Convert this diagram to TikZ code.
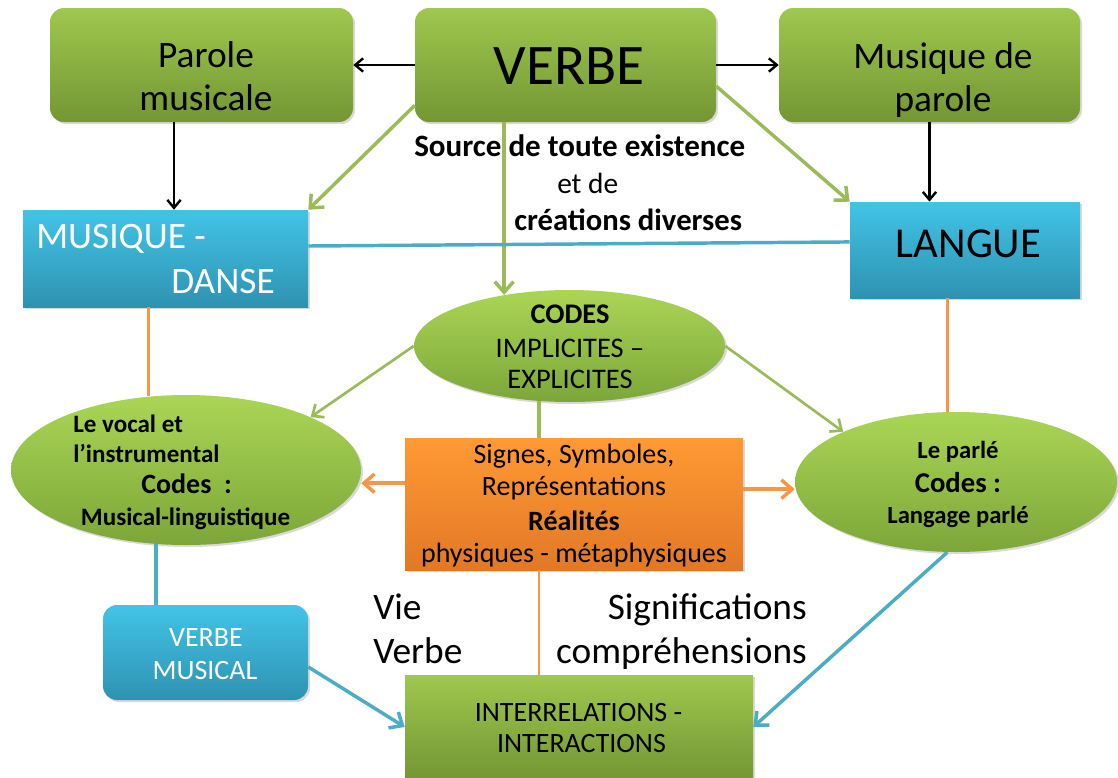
\documentclass[tikz,border=0pt]{standalone}
\usepackage{fontspec}
\setmainfont{Carlito}
\usetikzlibrary{arrows.meta,calc,positioning,shapes.geometric,shadows}
\newcommand{\pxunit}{0.75pt}
\newcommand{\fsz}[2]{\fontsize{#1}{#2}\selectfont}
\definecolor{grntop}{RGB}{158,200,78}
\definecolor{grnbot}{RGB}{116,150,52}
\definecolor{elltop}{RGB}{170,214,86}
\definecolor{ellbot}{RGB}{124,166,56}
\definecolor{blutop}{RGB}{66,196,230}
\definecolor{blubot}{RGB}{46,146,178}
\definecolor{orgtop}{RGB}{255,154,52}
\definecolor{orgbot}{RGB}{226,120,38}
\definecolor{grnline}{RGB}{155,187,89}
\definecolor{bluline}{RGB}{75,172,198}
\definecolor{orgline}{RGB}{247,150,70}
\tikzset{
    shadsty/.style={drop shadow={opacity=0.3,shadow xshift=1.5pt,shadow yshift=-1.5pt}},
    greensty/.style={rectangle,rounded corners=14*\pxunit,top color=grntop,bottom color=grnbot,shadsty,inner sep=0pt},
    bluesty/.style={rectangle,top color=blutop,bottom color=blubot,shadsty,inner sep=0pt},
    orangesty/.style={rectangle,top color=orgtop,bottom color=orgbot,shadsty,inner sep=0pt},
    ellsty/.style={ellipse,top color=elltop,bottom color=ellbot,shadsty,inner sep=0pt},
    txtsty/.style={inner sep=0pt,anchor=base},
    blkarrsty/.style={-{Straight Barb[length=6pt,width=10pt]},line width=1.8pt,black},
    grnarrsty/.style={-{Straight Barb[length=8pt,width=14pt]},line width=2.6pt,grnline},
    thinarrsty/.style={-{Straight Barb[length=7pt,width=12pt]},line width=2pt,grnline},
    bluarrsty/.style={-{Straight Barb[length=8pt,width=14pt]},line width=2.6pt,bluline},
    orgarrsty/.style={-{Straight Barb[length=8pt,width=14pt]},line width=2.6pt,orgline},
}

\begin{document}
\begin{tikzpicture}[x=\pxunit,y=-\pxunit]
\useasboundingbox (0,0) rectangle (1118,778);

% top row
\node (parole) [greensty,minimum width=303*\pxunit,minimum height=114*\pxunit] at (201.5,65) {};
\node (verbe) [greensty,minimum width=301*\pxunit,minimum height=114*\pxunit] at (565.5,65) {};
\node (musparole) [greensty,minimum width=301*\pxunit,minimum height=114*\pxunit] at (929.5,65) {};
\node (parolet) [inner sep=0pt,align=center,font=\fsz{28}{32}] at (206,76) {Parole\\musicale};
\node (verbet) [inner sep=0pt,font=\fsz{43}{50}] at (569,66.5) {VERBE};
\node (musparolet) [inner sep=0pt,align=center,font=\fsz{28}{32}] at (943,80) {Musique de\\parole};

% second row
\node (danse) [bluesty,minimum width=285*\pxunit,minimum height=97*\pxunit] at (165.5,258.5) {};
\node (langue) [bluesty,minimum width=230*\pxunit,minimum height=96*\pxunit] at (965,250) {};
\node (danseA) [txtsty,anchor=base west,text=white,font=\fsz{28}{32}] at (36,248) {MUSIQUE -};
\node (danseB) [txtsty,anchor=base west,text=white,font=\fsz{28}{32}] at (171,293) {DANSE};
\node (languet) [inner sep=0pt,font=\fsz{32}{38}] at (968.5,243.5) {LANGUE};
\node (srcA) [txtsty,anchor=base west,font=\bfseries\fsz{23.3}{27}] at (414,156) {Source de toute existence};
\node (srcB) [txtsty,anchor=base west,font=\fsz{22}{26}] at (557,193) {et de};
\node (srcC) [txtsty,anchor=base west,font=\bfseries\fsz{23}{27}] at (514,230) {créations diverses};

% codes
\node (codes) [ellsty,minimum width=311*\pxunit,minimum height=112*\pxunit] at (569.5,346) {};
\node (codesA) [txtsty,font=\bfseries\fsz{21.3}{25}] at (570,323) {CODES};
\node (codesB) [txtsty,font=\fsz{21.3}{25}] at (570,357) {IMPLICITES –};
\node (codesC) [txtsty,font=\fsz{21.3}{25}] at (570,388) {EXPLICITES};

% third row
\node (vocal) [ellsty,minimum width=350*\pxunit,minimum height=150*\pxunit] at (186,470) {};
\node (parle) [ellsty,minimum width=322*\pxunit,minimum height=140*\pxunit] at (956,482) {};
\node (signes) [orangesty,minimum width=338*\pxunit,minimum height=132*\pxunit] at (574,504) {};
\node (vocalA) [txtsty,anchor=base west,font=\bfseries\fsz{18.8}{22}] at (73,432) {Le vocal et};
\node (vocalB) [txtsty,anchor=base west,font=\bfseries\fsz{18.8}{22}] at (73,462) {l’instrumental};
\node (vocalC) [txtsty,anchor=base west,font=\bfseries\fsz{21}{25}] at (141,493) {Codes\ \ :};
\node (vocalD) [txtsty,font=\bfseries\fsz{18.8}{22}] at (185.5,525) {Musical-linguistique};
\node (parleA) [txtsty,font=\bfseries\fsz{18.5}{22}] at (958,458) {Le parlé};
\node (parleB) [txtsty,font=\bfseries\fsz{21.5}{25}] at (958,492) {Codes :};
\node (parleC) [txtsty,font=\bfseries\fsz{18.5}{22}] at (958,523) {Langage parlé};
\node (signesA) [txtsty,font=\fsz{21}{25}] at (574,463) {Signes, Symboles,};
\node (signesB) [txtsty,font=\fsz{21}{25}] at (574,495) {Représentations};
\node (signesC) [txtsty,font=\bfseries\fsz{21}{25}] at (574,530) {Réalités};
\node (signesD) [txtsty,font=\fsz{21}{25}] at (574,562) {physiques - métaphysiques};

% bottom row
\node (vmusical) [bluesty,rounded corners=14*\pxunit,minimum width=205*\pxunit,minimum height=95*\pxunit] at (205.5,652.5) {};
\node (inter) [greensty,rounded corners=0pt,minimum width=348*\pxunit,minimum height=104*\pxunit] at (579,727) {};
\node (vmusA) [txtsty,text=white,font=\fsz{21}{25}] at (206,646) {VERBE};
\node (vmusB) [txtsty,text=white,font=\fsz{21}{25}] at (205,679) {MUSICAL};
\node (interA) [txtsty,font=\fsz{21}{25}] at (578.5,721) {INTERRELATIONS -};
\node (interB) [txtsty,font=\fsz{21}{25}] at (581.5,752) {INTERACTIONS};
\node (vieA) [txtsty,anchor=base west,font=\fsz{28}{32}] at (373,619) {Vie};
\node (vieB) [txtsty,anchor=base west,font=\fsz{28}{32}] at (373,663) {Verbe};
\node (sigA) [txtsty,anchor=base east,font=\fsz{28}{32}] at (807,619) {Significations};
\node (sigB) [txtsty,anchor=base east,font=\fsz{28}{32}] at (807,663) {compréhensions};

% connectors
\coordinate (parolefoot) at ($(parole.south)+(-27.5,0)$);
\draw [blkarrsty] (verbe.west) -- (parole.east);
\draw [blkarrsty] (verbe.east) -- (musparole.west);
\draw [blkarrsty] (parolefoot) -- (parolefoot |- danse.north);
\draw [blkarrsty] (musparole.south) -- (musparole.south |- langue.north);
\draw [grnarrsty] (verbe.195) -- (danse.north east);
\draw [grnarrsty] (verbe.-8) -- (langue.north west);
\draw [grnarrsty] (verbe.south -| codes.142) -- (codes.142);
\draw [line width=2.6pt,bluline] (danse.5) -- (langue.176);
\draw [thinarrsty] (codes.west) -- (vocal.23);
\draw [thinarrsty] (codes.east) -- (parle.156);
\draw [line width=2.4pt,grnline] (codes.-119) -- (codes.-119 |- signes.north);
\draw [line width=2.6pt,orgline] (danse.south -| vocal.117) -- (vocal.117);
\draw [line width=2.6pt,orgline] (langue.south -| parle.97) -- (parle.97);
\draw [orgarrsty] (signes.173) -- (signes.173 -| vocal.east);
\draw [orgarrsty] (signes.5) -- (signes.5 -| parle.west);
\draw [line width=2pt,orgline] (signes.south -| codes.-119) -- (inter.north -| codes.-119);
\draw [line width=2.6pt,bluline] (vocal.-112) -- (vocal.-112 |- vmusical.north);
\draw [bluarrsty] (vmusical.-8) -- (inter.west);
\draw [bluarrsty] (parle.-97) -- (inter.east);

\end{tikzpicture}
\end{document}
